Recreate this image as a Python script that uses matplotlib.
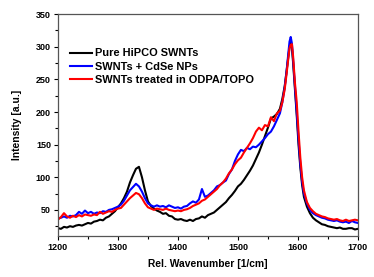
import matplotlib
matplotlib.use("Agg")
import matplotlib.pyplot as plt
from matplotlib.ticker import MultipleLocator

# Raman spectra
wavenumber = [
    1200, 1205, 1210, 1215, 1220, 1225, 1230, 1235, 1240, 1245,
    1250, 1255, 1260, 1265, 1270, 1275, 1280, 1285, 1290, 1295,
    1300, 1305, 1310, 1315, 1320, 1325, 1330, 1335, 1340, 1345,
    1350, 1355, 1360, 1365, 1370, 1375, 1380, 1385, 1390, 1395,
    1400, 1405, 1410, 1415, 1420, 1425, 1430, 1435, 1440, 1445,
    1450, 1455, 1460, 1465, 1470, 1475, 1480, 1485, 1490, 1495,
    1500, 1505, 1510, 1515, 1520, 1525, 1530, 1535, 1540, 1545,
    1550, 1555, 1560, 1565, 1570,
    1574, 1578, 1581, 1584, 1586, 1588, 1590, 1592, 1595, 1598,
    1601, 1604, 1607, 1610,
    1615, 1620, 1625, 1630, 1635, 1640, 1645, 1650, 1655, 1660,
    1665, 1670, 1675, 1680, 1685, 1690, 1695, 1700,
]

pure_hipco = [
    22, 21, 24, 23, 25, 24, 26, 27, 26, 28,
    30, 29, 32, 33, 35, 34, 38, 40, 44, 48,
    54, 60, 68, 78, 92, 103, 113, 116, 100, 80,
    63, 56, 52, 49, 47, 44, 45, 41, 40, 36,
    35, 36, 34, 33, 35, 33, 36, 37, 40, 38,
    42, 44, 46, 50, 54, 58, 62, 68, 73, 79,
    86, 90, 96, 103, 110, 118, 128, 138, 150, 163,
    176, 190, 193, 197, 205,
    220, 240, 262, 285, 300, 306, 298, 275, 235, 195,
    150, 115, 88, 70,
    55, 45, 38, 34, 31, 28, 27, 25, 24, 23,
    22, 23, 21, 21, 22, 22, 20, 21,
]

swnt_cdse = [
    37, 38, 40, 38, 41, 40, 42, 47, 44, 49,
    45, 47, 44, 46, 45, 48, 47, 50, 51, 53,
    55, 58, 64, 72, 80, 85, 90, 86, 78, 68,
    60, 57, 55, 57, 55, 56, 54, 57, 55, 53,
    54, 52, 55, 56, 60, 63, 61, 66, 82, 70,
    72, 76, 80, 86, 88, 92, 95, 105, 112, 125,
    135, 142, 140, 145, 143, 147, 146, 150, 155, 160,
    166, 170, 178, 188, 198,
    215, 238, 262, 290, 308, 315, 305, 280, 240, 200,
    158, 120, 93, 75,
    60, 50, 45, 42, 40, 38, 37, 35, 34, 33,
    34, 32, 31, 32, 30, 33, 31, 30,
]

swnt_odpa = [
    35, 39, 45, 40, 38, 41, 39, 42, 40, 43,
    42, 41, 43, 42, 47, 44, 46, 48, 47, 50,
    52, 53, 58, 63, 68, 72, 76, 74, 68, 60,
    54, 52, 50, 52, 51, 50, 52, 50, 49, 48,
    49, 48, 50, 51, 53, 56, 58, 60, 64, 66,
    70, 74, 78, 82, 88, 92, 98, 106, 112, 120,
    126, 130, 138, 145, 152, 160, 170, 176, 172, 180,
    178, 192, 186, 198, 202,
    215, 235, 258, 282, 298, 303, 304, 285, 245, 215,
    170, 130, 100, 80,
    62, 53, 48, 44, 42, 40, 39, 37, 36, 35,
    36, 34, 33, 35, 33, 34, 35, 34,
]

plt.rcParams['font.family'] = ['Liberation Sans', 'DejaVu Sans']
plt.rcParams['font.weight'] = 'bold'

fig = plt.figure(figsize=(3.74, 2.77), dpi=100)
ax = fig.add_axes([0.155, 0.148, 0.802, 0.801])

ax.plot(wavenumber, pure_hipco, color='black', lw=1.5, label='Pure HiPCO SWNTs')
ax.plot(wavenumber, swnt_cdse, color='blue', lw=1.5, label='SWNTs + CdSe NPs')
ax.plot(wavenumber, swnt_odpa, color='red', lw=1.5, label='SWNTs treated in ODPA/TOPO')

ax.set_xlim(1200, 1700)
ax.set_ylim(10, 350)
ax.xaxis.set_major_locator(MultipleLocator(100))
ax.xaxis.set_minor_locator(MultipleLocator(50))
ax.yaxis.set_major_locator(MultipleLocator(50))
ax.yaxis.set_minor_locator(MultipleLocator(25))
ax.tick_params(which='major', direction='out', length=3, width=0.8, labelsize=6.5, pad=2)
ax.tick_params(which='minor', direction='out', length=2, width=0.8)
for s in ax.spines.values():
    s.set_color('#555555')
    s.set_linewidth(0.9)

ax.set_xlabel('Rel. Wavenumber [1/cm]', fontsize=7.4, fontweight='bold', labelpad=5)
ax.set_ylabel('Intensity [a.u.]', fontsize=7.4, fontweight='bold', labelpad=10)

leg = ax.legend(loc='upper left', bbox_to_anchor=(0.025, 0.865), frameon=False,
                fontsize=7.9, handlelength=2.0, handletextpad=0.3, labelspacing=0.28,
                borderaxespad=0)

fig.savefig('out.png', dpi=100)
